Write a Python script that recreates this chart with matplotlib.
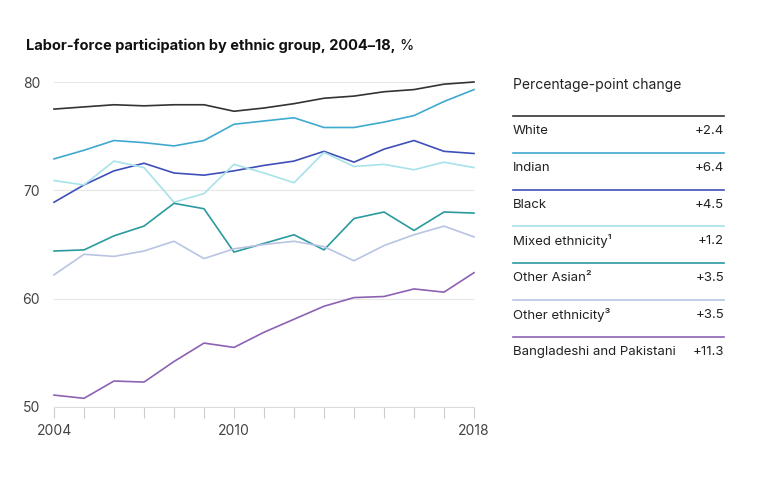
import matplotlib
matplotlib.use("Agg")
import matplotlib.pyplot as plt

years = list(range(2004, 2019))
names = ["White", "Indian", "Black", "Mixed ethnicity¹", "Other Asian²", "Other ethnicity³", "Bangladeshi and Pakistani"]
changes = ["+2.4", "+6.4", "+4.5", "+1.2", "+3.5", "+3.5", "+11.3"]
white = [77.5,77.7,77.9,77.8,77.9,77.9,77.3,77.6,78.0,78.5,78.7,79.1,79.3,79.8,80.0]
indian = [72.9,73.7,74.6,74.4,74.1,74.6,76.1,76.4,76.7,75.8,75.8,76.3,76.9,78.2,79.3]
black = [68.9,70.5,71.8,72.5,71.6,71.4,71.8,72.3,72.7,73.6,72.6,73.8,74.6,73.6,73.4]
mixed = [70.9,70.5,72.7,72.1,68.9,69.7,72.4,71.6,70.7,73.5,72.2,72.4,71.9,72.6,72.1]
other_asian = [64.4,64.5,65.8,66.7,68.8,68.3,64.3,65.1,65.9,64.5,67.4,68.0,66.3,68.0,67.9]
other_eth = [62.2,64.1,63.9,64.4,65.3,63.7,64.6,65.0,65.3,64.8,63.5,64.9,65.9,66.7,65.7]
bangla = [51.1,50.8,52.4,52.3,54.2,55.9,55.5,56.9,58.1,59.3,60.1,60.2,60.9,60.6,62.4]
series = [white, indian, black, mixed, other_asian, other_eth, bangla]
colors = ["#333333", "#3fa9d0", "#3f4fb8", "#a8e2ea", "#2a9a9e", "#b9c4e4", "#8d62b5"]

plt.rcParams['font.family'] = ['Inter', 'DejaVu Sans']
W, H = 767, 480
fig = plt.figure(figsize=(W/100, H/100), dpi=100)
ax = fig.add_axes([54/W, 1-407/H, (474-54)/W, (407-82)/H])
for s, c in zip(series, colors):
    ax.plot(years, s, color=c, lw=1.2, clip_on=False)
ax.set_xlim(2004, 2018)
ax.set_ylim(50, 80)
ax.set_yticks([50, 60, 70, 80])
ax.grid(axis='y', color='#e6e6e6', lw=0.8)
ax.set_axisbelow(True)
ax.set_xticks(years)
ax.set_xticklabels([str(y) if y in (2004, 2010, 2018) else "" for y in years])
for sp in ["top", "right", "left"]:
    ax.spines[sp].set_visible(False)
ax.spines["bottom"].set_color("#dddddd")
ax.tick_params(axis='x', length=8, color='#cccccc', labelsize=10, labelcolor='#444444', pad=4)
ax.tick_params(axis='y', length=0, labelsize=10, labelcolor='#444444', pad=10)

t = fig.text(26/W, 1-46/H, "Labor-force participation by ethnic group, 2004–18, ", fontsize=10.5, weight='bold', va='center', color='#111111')
fig.canvas.draw()
bb = t.get_window_extent(fig.canvas.get_renderer())
fig.text(bb.x1/W, 1-46/H, "%", fontsize=10.5, va='center', color='#111111')
fig.text(513/W, 1-85/H, "Percentage-point change", fontsize=10, va='center', color='#222222')
for i, (n, ch, c) in enumerate(zip(names, changes, colors)):
    ly = 116 + i*36.8
    fig.add_artist(plt.Line2D([513/W, 724/W], [1-ly/H, 1-ly/H], color=c, lw=1.2))
    fig.text(513/W, 1-(ly+15)/H, n, fontsize=9.5, va='center', color='#222222')
    fig.text(724/W, 1-(ly+15)/H, ch, fontsize=9.5, va='center', ha='right', color='#222222')

fig.savefig("out.png", dpi=100)
